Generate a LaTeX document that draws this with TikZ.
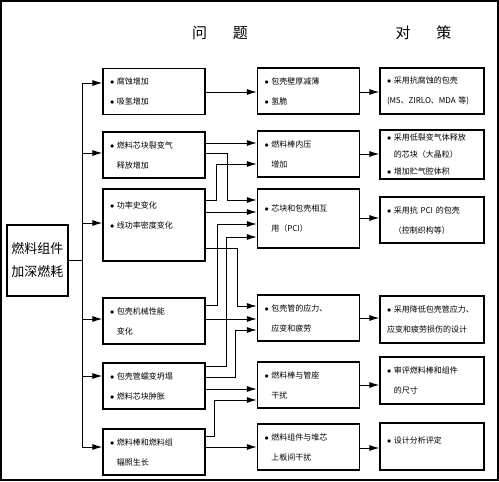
\documentclass[tikz,border=0pt]{standalone}
\usepackage{fontspec}
\setmainfont{Noto Sans CJK SC}
\usetikzlibrary{arrows.meta}
\newcommand{\bul}{$\bullet$\ }
\newcommand{\ind}{\phantom{$\bullet$\ }}
\tikzset{
  box/.style={draw, line width=1.2pt, minimum height=46pt, text width=88pt, inner xsep=7pt, align=left, font=\fontsize{8}{20}\selectfont},
  arr/.style={-{Latex[length=10pt,width=6pt]}, line width=1pt},
  title/.style={font=\fontsize{15}{15}\selectfont}
}
\begin{document}
\begin{tikzpicture}[x=1pt,y=-1pt]
\useasboundingbox (0,0) rectangle (499,482);
\draw[line width=1.2pt] (1,1) rectangle (498,480);

\node[title] (wt) at (220,33) {问\hspace{26pt}题};
\node[title] (dc) at (423.5,33) {对\hspace{26pt}策};

\node[draw, line width=1.2pt, minimum width=61pt, minimum height=71pt, inner sep=2pt, align=center, font=\fontsize{13}{23}\selectfont] (root) at (37.5,260.5) {燃料组件\\加深燃耗};

% causes
\node[box] (c1) at (154,91.5) {\bul 腐蚀增加\\\bul 吸氢增加};
\node[box] (c2) at (154,155) {\bul 燃料芯块裂变气\\\ind 释放增加};
\node[box, minimum height=72pt] (c3) at (154,225) {\bul 功率史变化\\\bul 线功率密度变化\\ ~};
\node[box] (c4) at (154,321) {\bul 包壳机械性能\\\ind 变化};
\node[box] (c5) at (154,386) {\bul 包壳管蠕变坍塌\\\bul 燃料芯块肿胀};
\node[box] (c6) at (154,452) {\bul 燃料棒和燃料组\\\ind 辐照生长};

% problems
\node[box] (p1) at (308.5,91) {\bul 包壳壁厚减薄\\\bul 氢脆};
\node[box] (p2) at (308.5,154) {\bul 燃料棒内压\\\ind 增加};
\node[box, minimum height=59pt] (p3) at (308.5,218.5) {\bul 芯块和包壳相互\\\ind 用（PCI）};
\node[box] (p4) at (308.5,318) {\bul 包壳管的应力、\\\ind 应变和疲劳};
\node[box] (p5) at (308.5,385) {\bul 燃料棒与管座\\\ind 干扰};
\node[box] (p6) at (308.5,447) {\bul 燃料组件与堆芯\\\ind 上板间干扰};

% measures
\node[box, text width=90pt] (m1) at (432,91) {\bul 采用抗腐蚀的包壳\\(M5、ZIRLO、MDA~等)};
\node[box, text width=90pt, minimum height=49pt, font=\fontsize{8}{17}\selectfont] (m2) at (432,154.5) {\bul 采用低裂变气体释放\\\ind 的芯块（大晶粒）\\\bul 增加贮气腔体积};
\node[box, text width=90pt] (m3) at (432,220) {\bul 采用抗 PCI 的包壳\\\ind （控制织构等）};
\node[box, text width=90pt, minimum height=47pt] (m4) at (432,319.5) {\bul 采用降低包壳管应力、\\应变和疲劳损伤的设计};
\node[box, text width=90pt, minimum height=47pt] (m5) at (432,380.5) {\bul 审评燃料棒和组件\\\ind 的尺寸};
\node[box, text width=90pt, minimum height=47pt] (m6) at (432,446.5) {\bul 设计分析评定\\[-8pt] ~};

% trunk
\coordinate (tt) at (82,83);
\coordinate (tb) at (82,447);
\draw[line width=1pt] (root.east) -- (root.east -| tt);
\draw[line width=1pt] (tt) -- (tb);
\foreach \n/\y in {c1/83,c2/153,c3/223,c4/319,c5/376,c6/447}
  \draw[arr] (82,\y) -- (\n.west |- 0,\y);

% causes to problems
\draw[arr] (c1.east |- 0,92) -- (p1.west |- 0,92);
\draw[arr] (c2.east |- 0,143) -- (p2.west |- 0,143);
\draw[arr] (c2.east |- 0,153) -| (227,200) -- (p3.west |- 0,200);
\draw[arr] (c3.east |- 0,200) -| (216,164) -- (p2.west |- 0,164);
\draw[arr] (c3.east |- 0,212) -- (p3.west |- 0,212);
\draw[arr] (c4.east |- 0,305) -| (217,224) -- (p3.west |- 0,224);
\draw[arr] (c5.east |- 0,366) -| (226,237) -- (p3.west |- 0,237);
\draw[arr] (c3.east |- 0,248) -| (237,306) -- (p4.west |- 0,306);
\draw[arr] (c4.east |- 0,319) -- (p4.west |- 0,319);
\draw[arr] (c5.east |- 0,377) -| (235,330) -- (p4.west |- 0,330);
\draw[arr] (c5.east |- 0,389) -- (p5.west |- 0,389);
\draw[arr] (c6.east |- 0,436) -| (214,400) -- (p5.west |- 0,400);
\draw[arr] (c6.east |- 0,447) -- (p6.west |- 0,447);

% problems to measures
\foreach \i/\y in {1/92,2/154,3/218,4/318,5/385,6/448}
  \draw[arr] (p\i.east |- 0,\y) -- (m\i.west |- 0,\y);
\end{tikzpicture}
\end{document}
